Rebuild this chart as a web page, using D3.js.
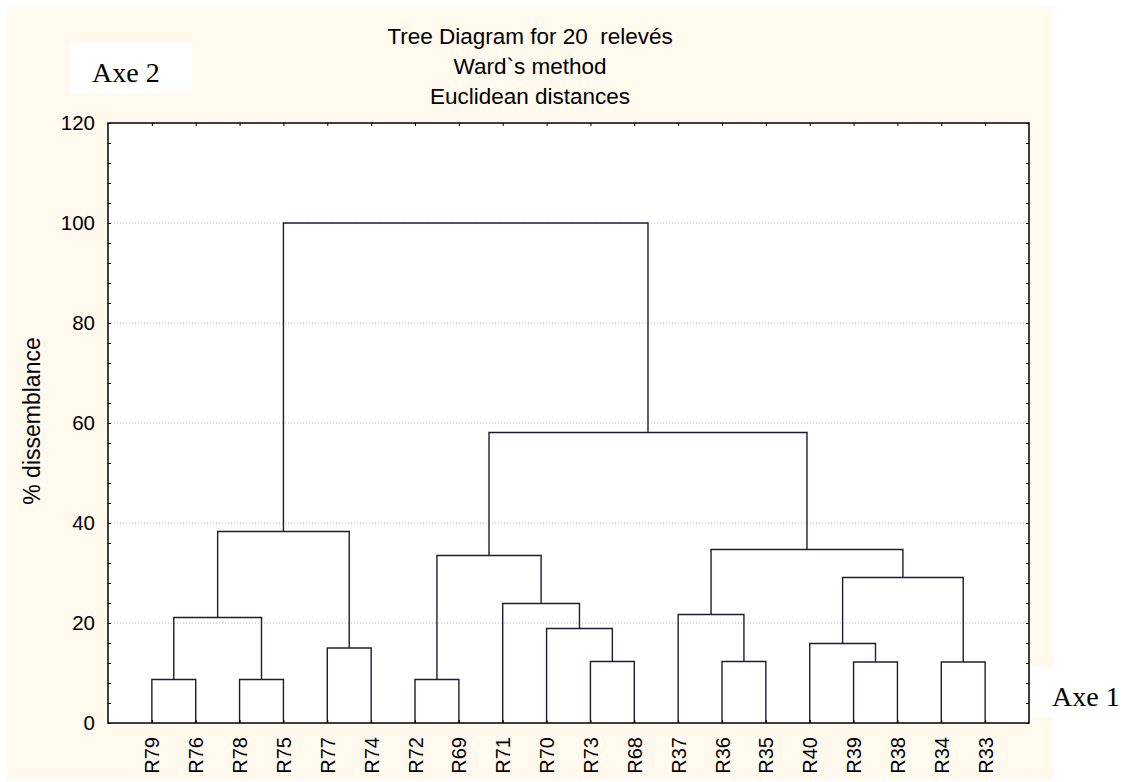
<!DOCTYPE html>
<html>
<head>
<meta charset="utf-8">
<script src="https://cdn.jsdelivr.net/npm/d3@7"></script>
<style>
  body { margin: 0; background: #ffffff; }
  svg { display: block; }
</style>
</head>
<body>
<div id="chart"></div>
<script>
// Leaf order along the x axis
var leaves = ["R79", "R76", "R78", "R75", "R77", "R74", "R72", "R69", "R71", "R70",
              "R73", "R68", "R37", "R36", "R35", "R40", "R39", "R38", "R34", "R33"];

// Merges: [cluster id, child a, child b, linkage height (% dissemblance)]
var merges = [
    ["C1", "R79", "R76", 8.7],
    ["C2", "R78", "R75", 8.7],
    ["C3", "R72", "R69", 8.7],
    ["C4", "R73", "R68", 12.3],
    ["C5", "R36", "R35", 12.3],
    ["C6", "R39", "R38", 12.2],
    ["C7", "R34", "R33", 12.2],
    ["C8", "R77", "R74", 15.0],
    ["C9", "R40", "C6", 15.9],
    ["C10", "R70", "C4", 18.9],
    ["C11", "C1", "C2", 21.1],
    ["C12", "R37", "C5", 21.7],
    ["C13", "R71", "C10", 23.9],
    ["C14", "C9", "C7", 29.1],
    ["C15", "C3", "C13", 33.5],
    ["C16", "C12", "C14", 34.7],
    ["C17", "C11", "C8", 38.3],
    ["C18", "C15", "C16", 58.1],
    ["C19", "C17", "C18", 100]
];

var yTicks = [0, 20, 40, 60, 80, 100, 120];
var gridValues = [20, 40, 60, 80, 100];
var titleLines = ["Tree Diagram for 20  relevés", "Ward`s method", "Euclidean distances"];

var W = 1130, H = 782;
var margin = {top: 123, right: 101, bottom: 59, left: 108};
var pw = W - margin.left - margin.right,
    ph = H - margin.top - margin.bottom;

var svg = d3.select("#chart").append("svg")
    .attr("width", W)
    .attr("height", H);

// Cream panel + white label boxes
svg.append("rect").attr("x", 7).attr("y", 7).attr("width", 1046).attr("height", 773)
    .attr("fill", "#fff9ee");
svg.append("rect").attr("x", 70).attr("y", 43).attr("width", 122).attr("height", 50)
    .attr("fill", "#ffffff");
svg.append("rect").attr("x", 1031).attr("y", 667).attr("width", 99).attr("height", 50)
    .attr("fill", "#ffffff");

svg.append("text").attr("x", 92).attr("y", 82)
    .style("font-family", "'Times New Roman', 'Liberation Serif', serif")
    .style("font-size", "28px").text("Axe 2");
svg.append("text").attr("x", 1052).attr("y", 706)
    .style("font-family", "'Times New Roman', 'Liberation Serif', serif")
    .style("font-size", "28px").text("Axe 1");

var font = "Arial, 'Liberation Sans', sans-serif";

// Title
svg.selectAll(".title").data(titleLines).enter().append("text")
    .attr("class", "title")
    .attr("x", 530)
    .attr("y", function(d, i) { return 44 + i * 30; })
    .attr("text-anchor", "middle")
    .style("font-family", font)
    .style("font-size", "22.5px")
    .style("white-space", "pre")
    .attr("xml:space", "preserve")
    .text(function(d) { return d; });

var g = svg.append("g").attr("transform", "translate(" + margin.left + "," + margin.top + ")");

var x = d3.scalePoint().domain(leaves).range([0, pw]).padding(1);
var y = d3.scaleLinear().domain([0, 120]).range([ph, 0]);

g.append("rect").attr("width", pw).attr("height", ph).attr("fill", "#ffffff");

// Grid lines
g.selectAll(".grid").data(gridValues).enter().append("line")
    .attr("class", "grid")
    .attr("x1", 0).attr("x2", pw)
    .attr("y1", function(d) { return y(d); })
    .attr("y2", function(d) { return y(d); })
    .attr("stroke", "#b8b8b8")
    .attr("stroke-width", 1)
    .attr("stroke-dasharray", "1,2");

// Node positions: leaves on the x scale, clusters centred over their children
var pos = {};
leaves.forEach(function(l) { pos[l] = {x: x(l), h: 0}; });
merges.forEach(function(m) {
    var a = pos[m[1]], b = pos[m[2]];
    pos[m[0]] = {x: (a.x + b.x) / 2, h: m[3]};
});

g.selectAll(".link").data(merges).enter().append("path")
    .attr("class", "link")
    .attr("d", function(m) {
        var a = pos[m[1]], b = pos[m[2]];
        return "M" + a.x + "," + y(a.h) + "V" + y(m[3]) + "H" + b.x + "V" + y(b.h);
    })
    .attr("fill", "none")
    .attr("stroke", "#1c1c3a")
    .attr("stroke-width", 1.4);

// Axes
var yAxis = g.append("g")
    .call(d3.axisLeft(y).tickValues(d3.range(0, 121, 4)).tickSize(-3).tickSizeOuter(0).tickPadding(13)
        .tickFormat(function(d) { return yTicks.indexOf(d) >= 0 ? d : ""; }));
yAxis.select(".domain").remove();
yAxis.selectAll("text").style("font-family", font).style("font-size", "20.5px").attr("fill", "#000");

var yAxisR = g.append("g").attr("transform", "translate(" + pw + ",0)")
    .call(d3.axisRight(y).tickValues(d3.range(0, 121, 4)).tickSize(-3).tickSizeOuter(0).tickFormat(""));
yAxisR.select(".domain").remove();

var xAxisT = g.append("g")
    .call(d3.axisTop(x).tickSize(-3).tickSizeOuter(0).tickFormat(""));
xAxisT.select(".domain").remove();

var xAxis = g.append("g").attr("transform", "translate(0," + ph + ")")
    .call(d3.axisBottom(x).tickSize(-3).tickSizeOuter(0));
xAxis.select(".domain").remove();
xAxis.selectAll("text")
    .style("font-family", font).style("font-size", "20px").attr("fill", "#000")
    .attr("text-anchor", "end")
    .attr("transform", "rotate(-90)")
    .attr("x", -14).attr("y", 0).attr("dy", "0.35em");

g.selectAll(".tick line").attr("stroke", "#000");

// Frame
g.append("rect").attr("width", pw).attr("height", ph)
    .attr("fill", "none").attr("stroke", "#000").attr("stroke-width", 1.5);

// Y label
svg.append("text")
    .attr("transform", "translate(40," + (margin.top + ph / 2 - 2) + ") rotate(-90)")
    .attr("text-anchor", "middle")
    .style("font-family", font)
    .style("font-size", "23px")
    .text("% dissemblance");
</script>
</body>
</html>
